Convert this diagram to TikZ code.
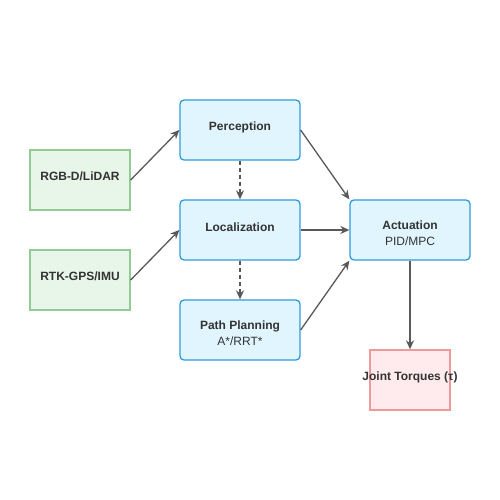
\documentclass[tikz,border=0pt]{standalone}
\usepackage{fontspec}
\setmainfont{Liberation Sans}
\usetikzlibrary{arrows.meta}
\definecolor{greenfill}{HTML}{E8F5E9}
\definecolor{greenline}{HTML}{93CB93}
\definecolor{bluefill}{HTML}{E1F5FE}
\definecolor{blueline}{HTML}{2F9BDC}
\definecolor{pinkfill}{HTML}{FFEBEE}
\definecolor{pinkline}{HTML}{EF9A9A}
\definecolor{arrowgray}{HTML}{595959}
\definecolor{textgray}{HTML}{333333}
\tikzset{
  box/.style={draw, line width=1.3pt, minimum width=100pt, minimum height=60pt, inner sep=0pt, text=textgray, font=\fontsize{12}{16}\selectfont, align=center},
  sensor/.style={box, fill=greenfill, draw=greenline},
  module/.style={box, fill=bluefill, draw=blueline, rounded corners=4pt, minimum width=120pt},
  outbox/.style={box, fill=pinkfill, draw=pinkline, minimum width=80pt},
  lbl/.style={inner sep=0pt, text=textgray, font=\fontsize{12}{16}\selectfont, align=center},
  conn/.style={draw=arrowgray, line width=1.3pt, -{Stealth[length=9pt,width=8pt]}},
  dconn/.style={conn, dash pattern=on 4pt off 3pt}
}
\begin{document}
\begin{tikzpicture}[x=1pt,y=-1pt]
\useasboundingbox[fill=white] (0,0) rectangle (500,500);
\node[sensor] (rgb) at (80,180) {\raisebox{3.5pt}[\height][\depth]{\bfseries RGB-D/LiDAR}};
\node[sensor] (rtk) at (80,280) {\raisebox{3.5pt}[\height][\depth]{\bfseries RTK-GPS/IMU}};
\node[module] (per) at (240,130) {\raisebox{2.5pt}[\height][\depth]{\bfseries Perception}};
\node[module] (loc) at (240,230) {\raisebox{3pt}[\height][\depth]{\bfseries Localization}};
\node[module] (pp) at (240,330) {};
\node[lbl] (pplbl) at (240,333) {{\bfseries Path Planning}\\A*/RRT*};
\node[module] (act) at (410,230) {};
\node[lbl] (actlbl) at (410,233) {{\bfseries Actuation}\\PID/MPC};
\node[outbox] (jt) at (410,380) {\raisebox{2.5pt}[\height][\depth]{\makebox[0pt]{\bfseries Joint Torques (τ)}}};
\draw[conn] (rgb.east) -- (per.west);
\draw[conn] (rtk.east) -- (loc.west);
\draw[dconn] (per.south) -- (loc.north);
\draw[dconn] (loc.south) -- (pp.north);
\draw[conn] (per.east) -- (act.north west);
\draw[conn] (loc.east) -- (act.west);
\draw[conn] (pp.east) -- (act.south west);
\draw[conn] (act.south) -- (jt.north);
\end{tikzpicture}
\end{document}
